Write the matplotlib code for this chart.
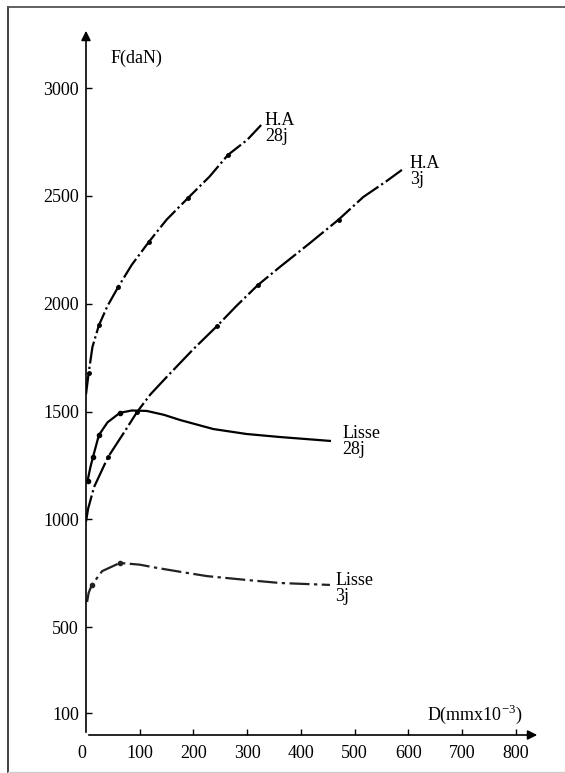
import matplotlib
matplotlib.use("Agg")
import matplotlib.pyplot as plt
from matplotlib.lines import Line2D

plt.rcParams['font.family'] = ['Liberation Serif', 'DejaVu Serif']
plt.rcParams['mathtext.fontset'] = 'custom'
plt.rcParams['mathtext.rm'] = 'Liberation Serif'

# Courbes force / deplacement
ha28_d = [0, 5, 12, 24, 40, 60, 85, 117, 150, 190, 230, 264, 300, 326]
ha28_f = [1580, 1680, 1800, 1900, 1990, 2078, 2180, 2287, 2390, 2491, 2590, 2690, 2760, 2829]

ha3_d = [0, 4, 15, 41, 70, 95, 120, 150, 200, 244, 280, 320, 361, 417, 470, 516, 560, 588]
ha3_f = [990, 1050, 1150, 1289, 1400, 1498, 1580, 1660, 1790, 1897, 1990, 2087, 2171, 2282, 2390, 2495, 2570, 2621]

lisse28_d = [3, 8, 13, 24, 40, 63, 85, 113, 145, 175, 237, 299, 361, 454]
lisse28_f = [1180, 1240, 1289, 1391, 1450, 1494, 1505, 1503, 1485, 1461, 1419, 1396, 1382, 1364]

lisse3_d = [2, 5, 11, 30, 63, 100, 132, 180, 225, 299, 361, 454]
lisse3_f = [617, 660, 696, 760, 798, 790, 775, 755, 737, 719, 705, 696]

xticks = [0, 100, 200, 300, 400, 500, 600, 700, 800]
yticks = [100, 500, 1000, 1500, 2000, 2500, 3000]

W, H = 565, 773
fig = plt.figure(figsize=(W / 100, H / 100), dpi=100)
fig.patch.set_facecolor('white')

# cadre du scan
fig.add_artist(Line2D([8 / W, 8 / W], [0, 1 - 7 / H], color='#333333', lw=1.3))
fig.add_artist(Line2D([8 / W, 1], [1 - 7 / H, 1 - 7 / H], color='#555555', lw=1.3))
fig.add_artist(Line2D([8 / W, 1], [1.5 / H, 1.5 / H], color='#cccccc', lw=1.0))

ax = fig.add_axes([86 / W, (H - 735) / H, 454 / W, 707 / H])
ax.set_xlim(0, 845)
ax.set_ylim(0, 3279)
for s in ax.spines.values():
    s.set_visible(False)
ax.patch.set_alpha(0)

# axes avec fleches
arr = dict(arrowstyle='-|>', color='black', lw=1.2, mutation_scale=14)
ax.annotate('', xy=(845, 0), xytext=(0, 0), arrowprops=arr, annotation_clip=False)
ax.annotate('', xy=(0, 3279), xytext=(0, 0), arrowprops=arr, annotation_clip=False)

ax.set_xticks(xticks)
ax.set_xticklabels([str(v) for v in xticks])
ax.set_yticks(yticks)
ax.set_yticklabels([str(v) for v in yticks])
ax.tick_params(direction='in', length=4, width=1, labelsize=13, colors='black')
ax.tick_params(axis='x', pad=7)
ax.tick_params(axis='y', pad=5)
ax.xaxis.get_major_ticks()[0].tick1line.set_visible(False)
ax.xaxis.get_major_ticks()[0].label1.set_horizontalalignment('right')

ax.plot(ha28_d, ha28_f, color='black', lw=1.6, ls=(0, (10, 1.5, 1, 1.5)),
        marker='o', ms=2.5, markevery=[1, 3, 5, 7, 9, 11])
ax.plot(ha3_d, ha3_f, color='black', lw=1.6, ls=(0, (12, 1.5, 1, 1.5)),
        marker='o', ms=2.5, markevery=[3, 5, 9, 11, 14])
ax.plot(lisse28_d, lisse28_f, color='black', lw=1.6, ls='-',
        marker='o', ms=3, markevery=[0, 2, 3, 5])
ax.plot(lisse3_d, lisse3_f, color='#222222', lw=1.6, ls=(0, (9, 2, 1.5, 2)),
        marker='o', ms=3, markevery=[2, 4])

txt = dict(fontsize=13, va='top', ha='left', linespacing=0.95)
ax.text(333, 2890, 'H.A\n28j', **txt)
ax.text(603, 2690, 'H.A\n3j', **txt)
ax.text(477, 1438, 'Lisse\n28j', **txt)
ax.text(464, 756, 'Lisse\n3j', **txt)

ax.text(45, 3140, 'F(daN)', fontsize=13, va='center', ha='left')
ax.text(635, 97, 'D(mmx10$^{-3}$)', fontsize=13, va='center', ha='left')

fig.savefig('out.png', dpi=100)
